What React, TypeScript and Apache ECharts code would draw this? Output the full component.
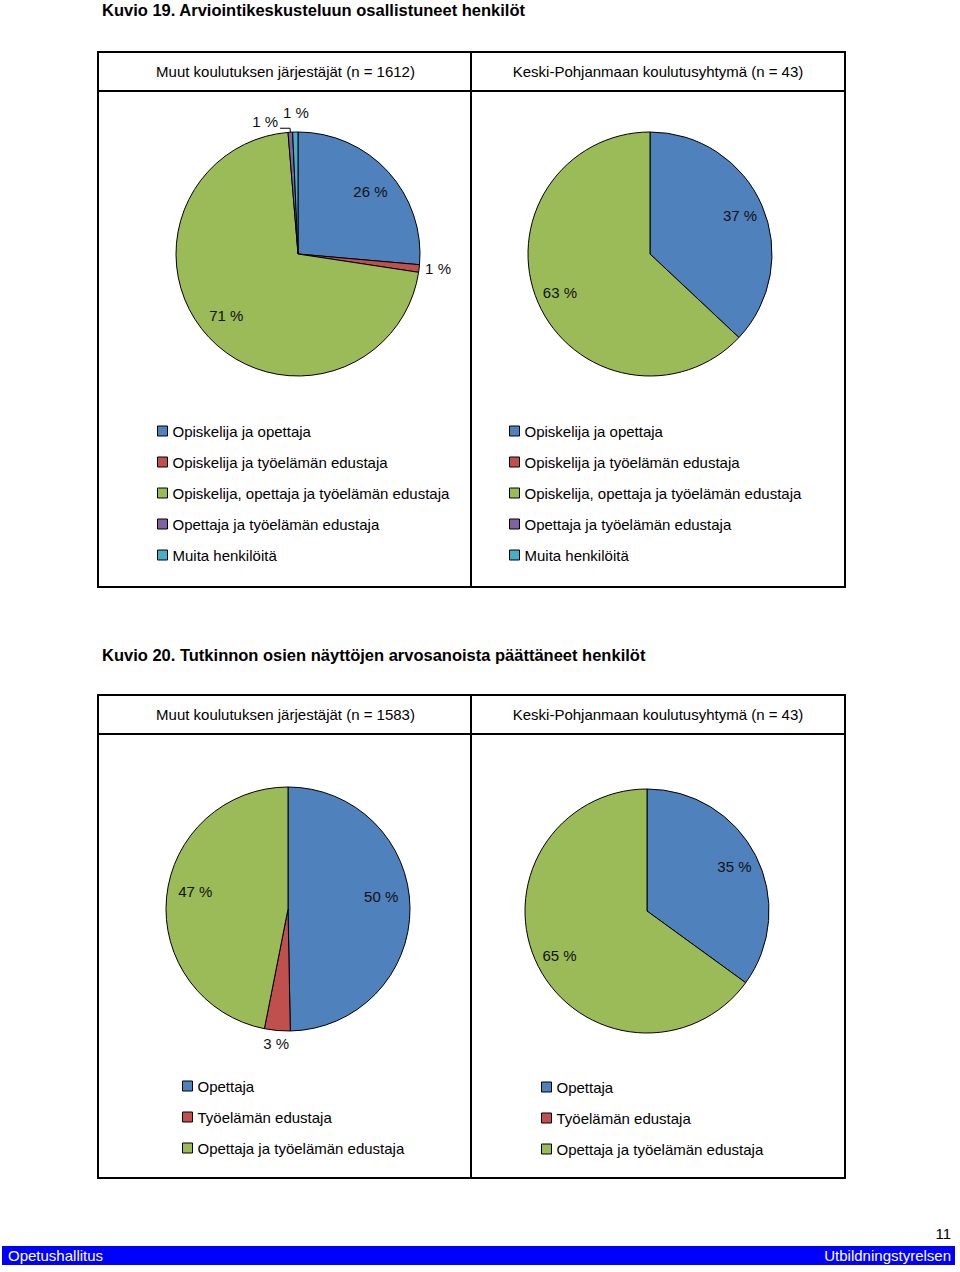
import React, { useEffect, useRef } from "react";
import * as echarts from "echarts";

// ---------- DATA ----------
const fig19Title = "Kuvio 19. Arviointikeskusteluun osallistuneet henkilöt";
const fig20Title = "Kuvio 20. Tutkinnon osien näyttöjen arvosanoista päättäneet henkilöt";

const fig19Headers = ["Muut koulutuksen järjestäjät (n = 1612)", "Keski-Pohjanmaan koulutusyhtymä (n = 43)"];
const fig20Headers = ["Muut koulutuksen järjestäjät (n = 1583)", "Keski-Pohjanmaan koulutusyhtymä (n = 43)"];

const fig19Categories = [
  "Opiskelija ja opettaja",
  "Opiskelija ja työelämän edustaja",
  "Opiskelija, opettaja ja työelämän edustaja",
  "Opettaja ja työelämän edustaja",
  "Muita henkilöitä",
];
const fig19Muut = [26.4, 1.0, 71.3, 0.6, 0.7];
const fig19Keski = [37, 0, 63, 0, 0];

const fig20Categories = ["Opettaja", "Työelämän edustaja", "Opettaja ja työelämän edustaja"];
const fig20Muut = [49.7, 3.4, 46.9];
const fig20Keski = [35, 0, 65];

const footerLeft = "Opetushallitus";
const footerRight = "Utbildningstyrelsen";
const pageNumber = "11";

// ---------- STYLE ----------
const FONT = "'Liberation Sans', Arial, sans-serif";
const colors19 = ["#4F81BD", "#C0504D", "#9BBB59", "#8064A2", "#4BACC6"];
const colors20 = ["#4F81BD", "#C0504D", "#9BBB59"];
const R = 122;

type Override = { label?: any; labelLine?: any };

function buildPie(
  center: [number, number],
  names: string[],
  values: number[],
  colors: string[],
  overrides: Record<string, Override>,
  nudges: Record<string, [number, number]> = {}
) {
  const items = names
    .map((n, i) => ({ name: n, value: values[i], color: colors[i] }))
    .filter((d) => d.value > 0);
  const main = {
    type: "pie",
    center,
    radius: [0, R],
    startAngle: 90,
    clockwise: true,
    silent: true,
    avoidLabelOverlap: false,
    label: { show: false },
    labelLine: { show: false },
    itemStyle: { borderColor: "#000", borderWidth: 1 },
    data: items.map((d) => ({ name: d.name, value: d.value, itemStyle: { color: d.color } })),
  };
  const labels: any = {
    type: "pie",
    center,
    radius: [R * 0.56, R],
    startAngle: 90,
    clockwise: true,
    silent: true,
    avoidLabelOverlap: false,
    itemStyle: { color: "rgba(0,0,0,0)", borderWidth: 0 },
    label: {
      show: true,
      position: "inside",
      color: "#111",
      fontSize: 15,
      fontFamily: FONT,
      formatter: (p: any) => Math.round(p.value) + " %",
    },
    labelLine: { show: false },
    data: items.map((d) => {
      const o = overrides[d.name] || {};
      return {
        name: d.name,
        value: d.value,
        label: o.label,
        labelLine: o.labelLine,
      };
    }),
  };
  if (Object.keys(nudges).length) {
    labels.labelLayout = (p: any) => {
      const n = nudges[items[p.dataIndex]?.name];
      return n ? { dx: n[0], dy: n[1] } : {};
    };
  }
  return [main, labels];
}

function buildLegend(left: number, top: number, names: string[], colors: string[]) {
  return {
    orient: "vertical",
    left,
    top,
    padding: 0,
    icon: "rect",
    itemWidth: 10,
    itemHeight: 10,
    itemGap: 16,
    selectedMode: false,
    textStyle: { fontSize: 15, fontFamily: FONT, color: "#000", lineHeight: 15 },
    data: names.map((n, i) => ({
      name: n,
      itemStyle: { color: colors[i], borderColor: "#000", borderWidth: 1 },
    })),
  };
}

function boxGraphics(top: number, headerBottom: number, bottom: number, headers: string[]) {
  const L = 98, Rr = 845, M = 471;
  const ls = { stroke: "#000", lineWidth: 2 };
  return [
    { type: "rect", shape: { x: L, y: top, width: Rr - L, height: bottom - top }, style: { fill: "none", ...ls } },
    { type: "line", shape: { x1: L, y1: headerBottom, x2: Rr, y2: headerBottom }, style: ls },
    { type: "line", shape: { x1: M, y1: top, x2: M, y2: bottom }, style: ls },
    {
      type: "text",
      x: (L + M) / 2 + 1,
      y: (top + headerBottom) / 2,
      style: { text: headers[0], font: `15px ${FONT}`, fill: "#000", align: "center", verticalAlign: "middle" },
    },
    {
      type: "text",
      x: (M + Rr) / 2,
      y: (top + headerBottom) / 2,
      style: { text: headers[1], font: `15px ${FONT}`, fill: "#000", align: "center", verticalAlign: "middle" },
    },
  ];
}

export default function App() {
  const ref = useRef<HTMLDivElement>(null);
  useEffect(() => {
    if (!ref.current) return;
    const chart = echarts.init(ref.current, null, { renderer: "svg" });

    const p1Overrides: Record<string, Override> = {
      "Opiskelija ja työelämän edustaja": {
        label: { position: "outside", distanceToLabelLine: 4 },
        labelLine: { show: false, length: 2, length2: 0 },
      },
      "Opettaja ja työelämän edustaja": {
        label: { position: "outside", distanceToLabelLine: 2 },
        labelLine: { show: true, length: 4, length2: 10, lineStyle: { color: "#000", width: 1 } },
      },
      "Muita henkilöitä": {
        label: { position: "outside", distanceToLabelLine: -14 },
        labelLine: { show: false, length: 20, length2: 0 },
      },
    };
    const p3Overrides: Record<string, Override> = {
      "Työelämän edustaja": {
        label: { position: "outside", distanceToLabelLine: -13 },
        labelLine: { show: false, length: 13, length2: 0 },
      },
    };

    const series = [
      ...buildPie([298, 254], fig19Categories, fig19Muut, colors19, p1Overrides, {
        "Opiskelija ja opettaja": [0, 4],
        "Opiskelija, opettaja ja työelämän edustaja": [0, -5],
        "Opettaja ja työelämän edustaja": [0, -7],
      }),
      ...buildPie([650, 254], fig19Categories, fig19Keski, colors19, {}),
      ...buildPie([288, 909], fig20Categories, fig20Muut, colors20, p3Overrides, {
        "Opettaja": [-5, -12],
        "Opettaja ja työelämän edustaja": [5, -8],
      }),
      ...buildPie([647, 911], fig20Categories, fig20Keski, colors20, {}),
    ];

    const option: any = {
      animation: false,
      backgroundColor: "#fff",
      legend: [
        buildLegend(157, 423.5, fig19Categories, colors19),
        buildLegend(509, 423.5, fig19Categories, colors19),
        buildLegend(182, 1078.5, fig20Categories, colors20),
        buildLegend(541, 1079.5, fig20Categories, colors20),
      ],
      series,
      graphic: [
        {
          type: "text",
          x: 102,
          y: 10,
          style: { text: fig19Title, font: `bold 16.5px ${FONT}`, fill: "#000", verticalAlign: "middle" },
        },
        {
          type: "text",
          x: 102,
          y: 655,
          style: { text: fig20Title, font: `bold 16.5px ${FONT}`, fill: "#000", verticalAlign: "middle" },
        },
        ...boxGraphics(52, 91, 587, fig19Headers),
        ...boxGraphics(695, 734, 1178, fig20Headers),
        {
          type: "rect",
          shape: { x: 2, y: 1246, width: 953, height: 19 },
          style: { fill: "#0000FF" },
        },
        {
          type: "text",
          x: 8,
          y: 1255.5,
          style: { text: footerLeft, font: `15px ${FONT}`, fill: "#fff", verticalAlign: "middle" },
        },
        {
          type: "text",
          x: 951,
          y: 1255.5,
          style: { text: footerRight, font: `15px ${FONT}`, fill: "#fff", align: "right", verticalAlign: "middle" },
        },
        {
          type: "text",
          x: 951,
          y: 1233,
          style: { text: pageNumber, font: `15px ${FONT}`, fill: "#000", align: "right", verticalAlign: "middle" },
        },
      ],
    };
    chart.setOption(option);
    return () => chart.dispose();
  }, []);
  return <div ref={ref} style={{ position: "absolute", left: 0, top: 0, width: 960, height: 1272 }} />;
}
